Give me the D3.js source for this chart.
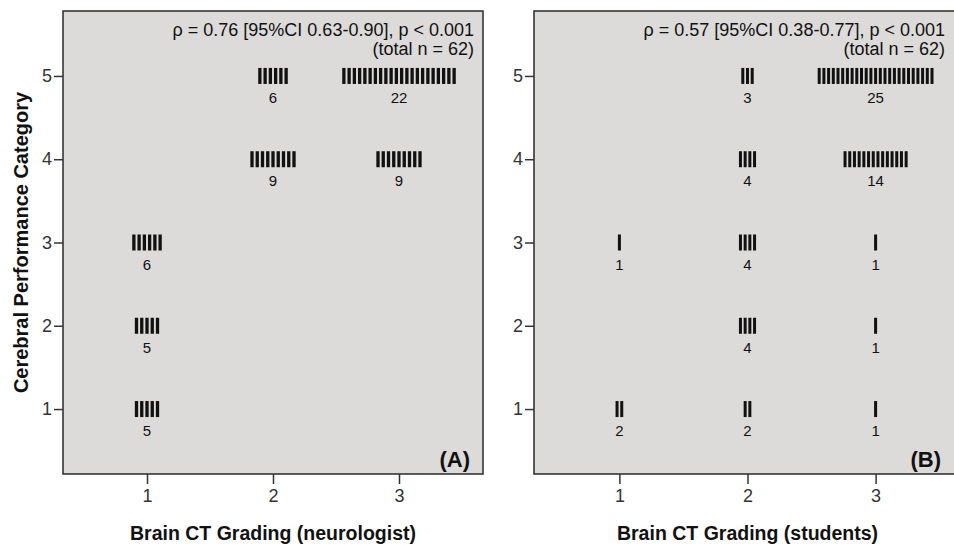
<!DOCTYPE html>
<html>
<head>
<meta charset="utf-8">
<script src="https://cdn.jsdelivr.net/npm/d3@7"></script>
<style>
  body { margin: 0; background: #fff; }
  svg text { font-family: "Liberation Sans", Arial, sans-serif; }
</style>
</head>
<body>
<div id="chart"></div>
<script>
// categories
const ctGrades = [1, 2, 3];
const cpcLevels = [1, 2, 3, 4, 5];

// counts per (CT grade, CPC) cell — panel A (neurologist)
const neuroCells = [
  { ct: 1, cpc: 3, n: 6 }, { ct: 1, cpc: 2, n: 5 }, { ct: 1, cpc: 1, n: 5 },
  { ct: 2, cpc: 5, n: 6 }, { ct: 2, cpc: 4, n: 9 },
  { ct: 3, cpc: 5, n: 22 }, { ct: 3, cpc: 4, n: 9 }
];
// panel B (students)
const studentCells = [
  { ct: 1, cpc: 3, n: 1 }, { ct: 1, cpc: 1, n: 2 },
  { ct: 2, cpc: 5, n: 3 }, { ct: 2, cpc: 4, n: 4 }, { ct: 2, cpc: 3, n: 4 }, { ct: 2, cpc: 2, n: 4 }, { ct: 2, cpc: 1, n: 2 },
  { ct: 3, cpc: 5, n: 25 }, { ct: 3, cpc: 4, n: 14 }, { ct: 3, cpc: 3, n: 1 }, { ct: 3, cpc: 2, n: 1 }, { ct: 3, cpc: 1, n: 1 }
];

const statsA = ["\u03C1 = 0.76 [95%CI 0.63-0.90], p < 0.001", "(total n = 62)"];
const statsB = ["\u03C1 = 0.57 [95%CI 0.38-0.77], p < 0.001", "(total n = 62)"];

/*
------------------------------
METHOD: set up the canvas
------------------------------
*/
const W = 954, H = 546;
const plotTop = 11, plotBottom = 474;

const svg = d3.select("#chart").append("svg")
  .attr("width", W)
  .attr("height", H);

const y = d3.scaleLinear().domain([0.22, 5.78]).range([plotBottom, plotTop]);

/*
------------------------------
METHOD: draw one panel
------------------------------
*/
function drawPanel(cfg) {
  const x = d3.scaleLinear().domain([1 / 3, 11 / 3]).range([cfg.left, cfg.left + cfg.width]);
  const g = svg.append("g");

  g.append("rect")
    .attr("x", cfg.left).attr("y", plotTop)
    .attr("width", cfg.width).attr("height", plotBottom - plotTop)
    .attr("fill", "#dcdbd9")
    .attr("stroke", "#2a2a2a")
    .attr("stroke-width", 1.5);

  // axes
  const xAxis = g.append("g")
    .attr("transform", "translate(0," + plotBottom + ")")
    .call(d3.axisBottom(x).tickValues(ctGrades).tickSize(10).tickPadding(5).tickFormat(d3.format("d")));
  const yAxis = g.append("g")
    .attr("transform", "translate(" + cfg.left + ",0)")
    .call(d3.axisLeft(y).tickValues(cpcLevels).tickSize(9).tickPadding(2).tickFormat(d3.format("d")));
  [xAxis, yAxis].forEach(a => {
    a.select(".domain").remove();
    a.selectAll("line").attr("stroke", "#333").attr("stroke-width", 1.5);
    a.selectAll("text").attr("fill", "#333").style("font-size", "18px");
  });

  // tally marks
  const cells = g.selectAll("g.cell")
    .data(cfg.cells)
    .join("g")
    .attr("class", "cell");

  cells.each(function (d) {
    const cx = x(d.ct), cy = y(d.cpc);
    const x0 = cx - d.n * cfg.pitch / 2;
    d3.select(this).selectAll("rect")
      .data(d3.range(d.n))
      .join("rect")
      .attr("x", i => x0 + i * cfg.pitch + (cfg.pitch - cfg.markW) / 2)
      .attr("y", cy - 8)
      .attr("width", cfg.markW)
      .attr("height", 16)
      .attr("fill", "#111");
    d3.select(this).append("text")
      .attr("x", cx)
      .attr("y", cy + 27)
      .attr("text-anchor", "middle")
      .style("font-size", "15px")
      .attr("fill", "#111")
      .text(d.n);
  });

  // stats annotation
  g.selectAll("text.stat")
    .data(cfg.stats)
    .join("text")
    .attr("class", "stat")
    .attr("x", cfg.left + 411)
    .attr("y", (d, i) => 36 + i * 19)
    .attr("text-anchor", "end")
    .style("font-size", "18px")
    .attr("fill", "#111")
    .text(d => d);

  // panel letter
  g.append("text")
    .attr("x", cfg.left + 407)
    .attr("y", 467)
    .attr("text-anchor", "end")
    .style("font-size", "22px")
    .style("font-weight", "bold")
    .attr("fill", "#111")
    .text(cfg.letter);

  // x title
  g.append("text")
    .attr("x", x(2))
    .attr("y", 540)
    .attr("text-anchor", "middle")
    .style("font-size", "19.5px")
    .style("font-weight", "bold")
    .attr("fill", "#111")
    .text(cfg.xTitle);
}

drawPanel({ left: 63, width: 420, cells: neuroCells, pitch: 5.25, markW: 3.3, stats: statsA, letter: "(A)", xTitle: "Brain CT Grading (neurologist)" });
drawPanel({ left: 534, width: 427, cells: studentCells, pitch: 4.7, markW: 3, stats: statsB, letter: "(B)", xTitle: "Brain CT Grading (students)" });

// y title
svg.append("text")
  .attr("transform", "translate(28," + ((plotTop + plotBottom) / 2) + ") rotate(-90)")
  .attr("text-anchor", "middle")
  .style("font-size", "20px")
  .style("font-weight", "bold")
  .attr("fill", "#111")
  .text("Cerebral Performance Category");
</script>
</body>
</html>
